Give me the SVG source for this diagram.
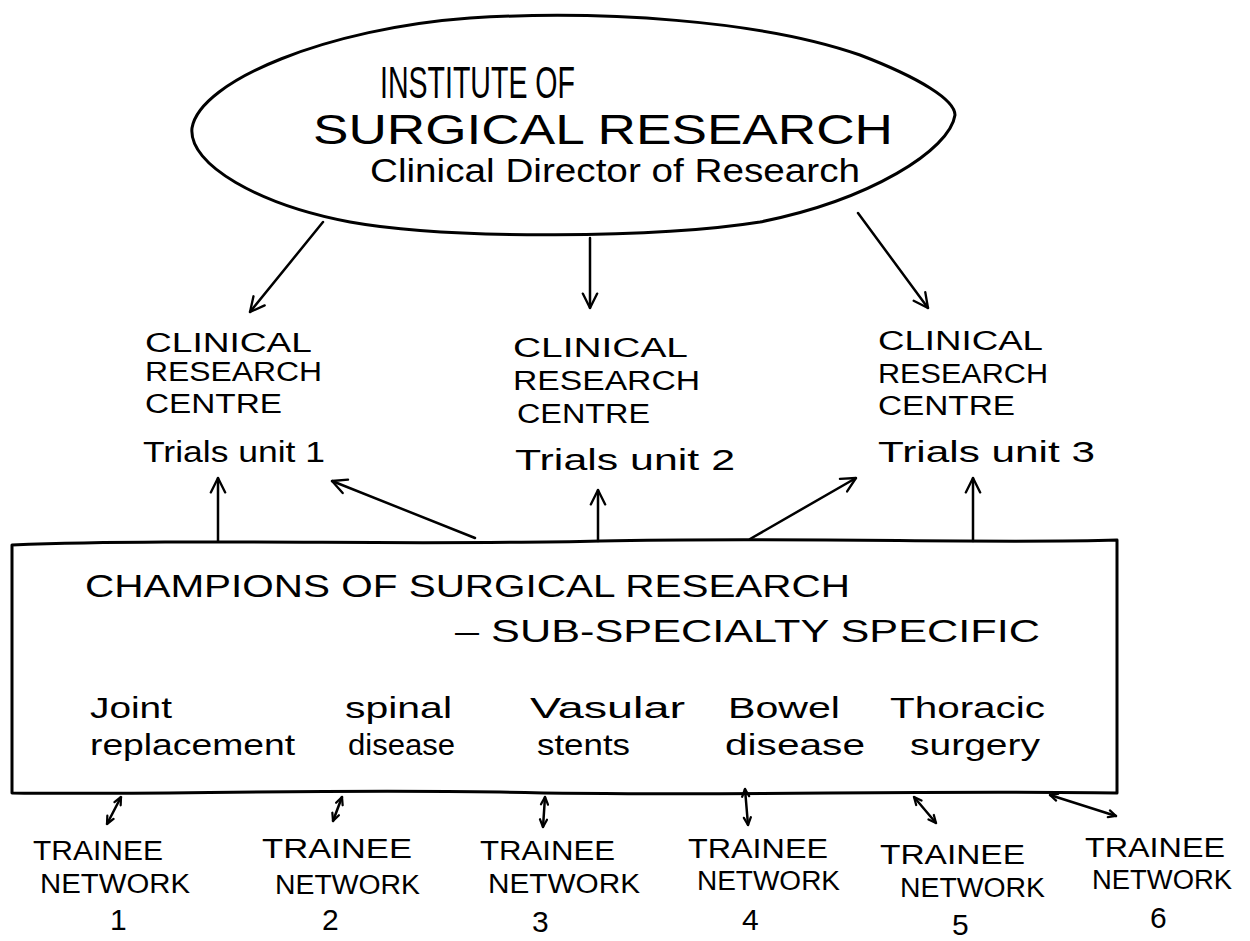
<svg xmlns="http://www.w3.org/2000/svg" width="1250" height="941" viewBox="0 0 1250 941">
<style>
.t{font-family:"Liberation Sans","DejaVu Sans",sans-serif;fill:#000}
.ln{fill:none;stroke:#000;stroke-width:3;stroke-linecap:round;stroke-linejoin:round}
.arr{fill:none;stroke:#000;stroke-width:2.5;stroke-linecap:round;marker-end:url(#ah)}
.bi{fill:none;stroke:#000;stroke-width:2.5;stroke-linecap:round;marker-end:url(#sh);marker-start:url(#sh)}
</style>
<defs>
<marker id="ah" viewBox="0 0 20 20" refX="19" refY="10" markerWidth="18" markerHeight="18" orient="auto-start-reverse" markerUnits="userSpaceOnUse">
<path d="M3,2 L19,10 L3,18" fill="none" stroke="#000" stroke-width="2.6" stroke-linecap="round" stroke-linejoin="round"/>
</marker>
<marker id="sh" viewBox="0 0 20 20" refX="19" refY="10" markerWidth="10" markerHeight="10" orient="auto-start-reverse" markerUnits="userSpaceOnUse">
<path d="M4,3 L19,10 L4,17" fill="none" stroke="#000" stroke-width="4.5" stroke-linecap="round" stroke-linejoin="round"/>
</marker>
</defs>
<rect width="1250" height="941" fill="#fff"/>

<g id="institute">
<path class="ln" d="M192,128 C200,80 330,28 470,18 C600,10 760,20 860,55 C920,78 955,100 955,115 C950,150 870,200 760,222 C660,238 450,240 350,222 C260,205 188,165 192,128 Z"/>
<text class="t" x="380" y="98" font-size="44" textLength="195" lengthAdjust="spacingAndGlyphs">INSTITUTE OF</text>
<text class="t" x="313" y="144" font-size="42" textLength="580" lengthAdjust="spacingAndGlyphs">SURGICAL RESEARCH</text>
<text class="t" x="370" y="182" font-size="34" textLength="490" lengthAdjust="spacingAndGlyphs">Clinical Director of Research</text>
</g>

<g id="crc1">
<text class="t" x="145" y="352" font-size="27" textLength="167" lengthAdjust="spacingAndGlyphs">CLINICAL</text>
<text class="t" x="145" y="381" font-size="27" textLength="177" lengthAdjust="spacingAndGlyphs">RESEARCH</text>
<text class="t" x="145" y="413" font-size="27" textLength="137" lengthAdjust="spacingAndGlyphs">CENTRE</text>
<text class="t" x="143" y="462" font-size="30" textLength="182" lengthAdjust="spacingAndGlyphs">Trials unit 1</text>
</g>
<g id="crc2">
<text class="t" x="513" y="357" font-size="27" textLength="175" lengthAdjust="spacingAndGlyphs">CLINICAL</text>
<text class="t" x="513" y="390" font-size="27" textLength="187" lengthAdjust="spacingAndGlyphs">RESEARCH</text>
<text class="t" x="517" y="423" font-size="27" textLength="133" lengthAdjust="spacingAndGlyphs">CENTRE</text>
<text class="t" x="515" y="470" font-size="30" textLength="220" lengthAdjust="spacingAndGlyphs">Trials unit 2</text>
</g>
<g id="crc3">
<text class="t" x="878" y="350" font-size="27" textLength="165" lengthAdjust="spacingAndGlyphs">CLINICAL</text>
<text class="t" x="878" y="383" font-size="27" textLength="170" lengthAdjust="spacingAndGlyphs">RESEARCH</text>
<text class="t" x="878" y="415" font-size="27" textLength="137" lengthAdjust="spacingAndGlyphs">CENTRE</text>
<text class="t" x="878" y="462" font-size="30" textLength="217" lengthAdjust="spacingAndGlyphs">Trials unit 3</text>
</g>

<g id="champions">
<path class="ln" d="M12,545 C200,538 400,546 600,541 C800,537 1000,544 1117,540 L1117,793 C900,790 700,797 500,792 C300,789 150,795 12,793 Z"/>
<text class="t" x="85" y="597" font-size="32" textLength="765" lengthAdjust="spacingAndGlyphs">CHAMPIONS OF SURGICAL RESEARCH</text>
<text class="t" x="455" y="642" font-size="32" textLength="585" lengthAdjust="spacingAndGlyphs">– SUB-SPECIALTY SPECIFIC</text>
<text class="t" x="90" y="718" font-size="30" textLength="82" lengthAdjust="spacingAndGlyphs">Joint</text>
<text class="t" x="90" y="755" font-size="30" textLength="205" lengthAdjust="spacingAndGlyphs">replacement</text>
<text class="t" x="345" y="718" font-size="30" textLength="107" lengthAdjust="spacingAndGlyphs">spinal</text>
<text class="t" x="348" y="755" font-size="30" textLength="107" lengthAdjust="spacingAndGlyphs">disease</text>
<text class="t" x="530" y="718" font-size="30" textLength="155" lengthAdjust="spacingAndGlyphs">Vasular</text>
<text class="t" x="537" y="755" font-size="30" textLength="93" lengthAdjust="spacingAndGlyphs">stents</text>
<text class="t" x="728" y="718" font-size="30" textLength="112" lengthAdjust="spacingAndGlyphs">Bowel</text>
<text class="t" x="725" y="755" font-size="30" textLength="140" lengthAdjust="spacingAndGlyphs">disease</text>
<text class="t" x="890" y="718" font-size="30" textLength="155" lengthAdjust="spacingAndGlyphs">Thoracic</text>
<text class="t" x="910" y="755" font-size="30" textLength="130" lengthAdjust="spacingAndGlyphs">surgery</text>
</g>

<g id="tn1">
<text class="t" x="33" y="860" font-size="27" textLength="130" lengthAdjust="spacingAndGlyphs">TRAINEE</text>
<text class="t" x="40" y="893" font-size="27" textLength="150" lengthAdjust="spacingAndGlyphs">NETWORK</text>
<text class="t" x="110" y="930" font-size="30">1</text>
</g>
<g id="tn2">
<text class="t" x="262" y="858" font-size="27" textLength="150" lengthAdjust="spacingAndGlyphs">TRAINEE</text>
<text class="t" x="275" y="894" font-size="27" textLength="145" lengthAdjust="spacingAndGlyphs">NETWORK</text>
<text class="t" x="322" y="930" font-size="30">2</text>
</g>
<g id="tn3">
<text class="t" x="480" y="860" font-size="27" textLength="135" lengthAdjust="spacingAndGlyphs">TRAINEE</text>
<text class="t" x="488" y="893" font-size="27" textLength="152" lengthAdjust="spacingAndGlyphs">NETWORK</text>
<text class="t" x="532" y="932" font-size="30">3</text>
</g>
<g id="tn4">
<text class="t" x="688" y="858" font-size="27" textLength="140" lengthAdjust="spacingAndGlyphs">TRAINEE</text>
<text class="t" x="697" y="890" font-size="27" textLength="143" lengthAdjust="spacingAndGlyphs">NETWORK</text>
<text class="t" x="742" y="930" font-size="30">4</text>
</g>
<g id="tn5">
<text class="t" x="880" y="864" font-size="27" textLength="145" lengthAdjust="spacingAndGlyphs">TRAINEE</text>
<text class="t" x="900" y="897" font-size="27" textLength="145" lengthAdjust="spacingAndGlyphs">NETWORK</text>
<text class="t" x="952" y="935" font-size="30">5</text>
</g>
<g id="tn6">
<text class="t" x="1085" y="857" font-size="27" textLength="140" lengthAdjust="spacingAndGlyphs">TRAINEE</text>
<text class="t" x="1092" y="889" font-size="27" textLength="140" lengthAdjust="spacingAndGlyphs">NETWORK</text>
<text class="t" x="1150" y="928" font-size="30">6</text>
</g>

<g id="connectors">
<path class="arr" d="M323,222 L250,312"/>
<path class="arr" d="M590,238 L590,308"/>
<path class="arr" d="M858,213 L928,308"/>
<path class="arr" d="M218,541 L218,478"/>
<path class="arr" d="M475,538 L332,481"/>
<path class="arr" d="M598,541 L598,490"/>
<path class="arr" d="M750,539 L856,478"/>
<path class="arr" d="M973,541 L973,478"/>
<path class="bi" d="M121,797 L107,824"/>
<path class="bi" d="M342,797 L333,821"/>
<path class="bi" d="M545,797 L543,827"/>
<path class="bi" d="M745,789 L748,825"/>
<path class="bi" d="M914,797 L936,823"/>
<path class="bi" d="M1050,795 L1116,816"/>
</g>
</svg>
